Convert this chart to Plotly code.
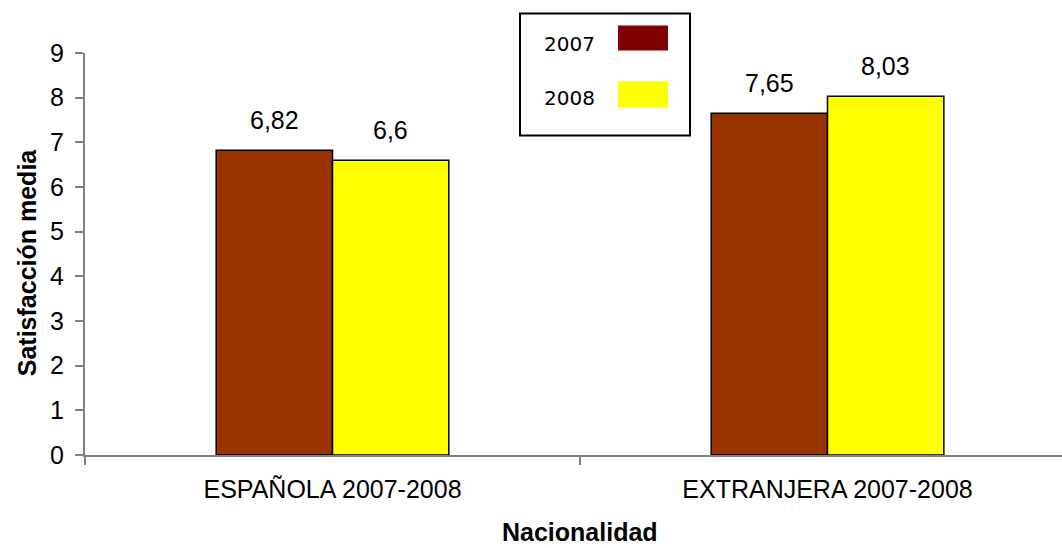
import plotly.graph_objects as go

categories = ["ESPAÑOLA 2007-2008", "EXTRANJERA 2007-2008"]
series_names = ["2007", "2008"]
values_2007 = [6.82, 7.65]
values_2008 = [6.6, 8.03]
value_labels_2007 = ["6,82", "7,65"]
value_labels_2008 = ["6,6", "8,03"]
y_ticks = [0, 1, 2, 3, 4, 5, 6, 7, 8, 9]

W, H = 1062, 548
L, R, T, B = 85, 0, 52.5, 93
pw = W - L - R
ph = H - T - B

FONT = "Arial, Liberation Sans, sans-serif"
BAR_COLORS = ["#993300", "#FFFF00"]
LEGEND_COLORS = ["#800000", "#FFFF00"]

bargap = 0.53
bw = (1 - bargap) / 2

fig = go.Figure()
fig.add_trace(go.Bar(x=categories, y=values_2007, name=series_names[0],
                     marker=dict(color=BAR_COLORS[0], line=dict(color="black", width=1.5))))
fig.add_trace(go.Bar(x=categories, y=values_2008, name=series_names[1],
                     marker=dict(color=BAR_COLORS[1], line=dict(color="black", width=1.5))))

annotations = []
for i in range(len(categories)):
    for j, (vals, labs) in enumerate([(values_2007, value_labels_2007), (values_2008, value_labels_2008)]):
        xc = i + (j - 0.5) * bw
        annotations.append(dict(x=xc, y=vals[i], xref="x", yref="y", text=labs[i],
                                showarrow=False, yanchor="bottom", yshift=14,
                                font=dict(family=FONT, size=25, color="black")))

# axis titles
annotations.append(dict(x=(580 - L) / pw, y=(H - B - 547) / ph, xref="paper", yref="paper",
                        text="<b>Nacionalidad</b>", showarrow=False, xanchor="center", yanchor="bottom",
                        borderpad=0,
                        font=dict(family=FONT, size=25, color="black")))
annotations.append(dict(x=(27 - L) / pw, y=(H - B - 262) / ph, xref="paper", yref="paper",
                        text="<b>Satisfacción media</b>", showarrow=False, textangle=-90,
                        xanchor="center", yanchor="middle",
                        font=dict(family=FONT, size=25, color="black")))

# custom legend
shapes = [dict(type="rect", xref="paper", yref="paper",
               x0=(520 - L) / pw, x1=(690 - L) / pw,
               y0=(H - B - 135) / ph, y1=(H - B - 13) / ph,
               line=dict(color="black", width=2), fillcolor="white", layer="above")]
legend_rows = [(25, 50, 43), (81, 107, 98)]
for k, (t0, t1, tc) in enumerate(legend_rows):
    shapes.append(dict(type="rect", xref="paper", yref="paper",
                       x0=(618 - L) / pw, x1=(668 - L) / pw,
                       y0=(H - B - t1) / ph, y1=(H - B - t0) / ph,
                       line=dict(width=0), fillcolor=LEGEND_COLORS[k], layer="above"))
    annotations.append(dict(x=(542 - L) / pw, y=(H - B - tc) / ph, xref="paper", yref="paper",
                            text=series_names[k], showarrow=False, xanchor="left", yanchor="middle",
                            font=dict(family="DejaVu Sans", size=20, color="black")))

fig.update_layout(
    width=W, height=H,
    margin=dict(l=L, r=R, t=T, b=B, pad=0),
    paper_bgcolor="white", plot_bgcolor="white",
    barmode="group", bargap=bargap, bargroupgap=0,
    showlegend=False,
    annotations=annotations, shapes=shapes,
    font=dict(family=FONT, size=25, color="black"),
)
fig.update_xaxes(type="category", range=[-0.5, -0.5 + pw / 495.0],
                 showline=True, linecolor="#808080", linewidth=2,
                 ticks="outside", tickson="boundaries", ticklen=8, tickcolor="#808080", tickwidth=2,
                 showgrid=False, zeroline=False, ticklabelstandoff=11,
                 tickfont=dict(family=FONT, size=25, color="black"))
fig.update_yaxes(range=[0, 9], tickvals=y_ticks, ticktext=[str(v) for v in y_ticks],
                 showline=True, linecolor="#808080", linewidth=2,
                 ticks="outside", ticklen=8, tickcolor="#808080", tickwidth=2,
                 showgrid=False, zeroline=False, ticklabelstandoff=6,
                 tickfont=dict(family=FONT, size=25, color="black"))

fig.write_html("out.html", config={"displayModeBar": False},
               post_script="document.body.style.margin='0';document.body.style.overflow='hidden';")
